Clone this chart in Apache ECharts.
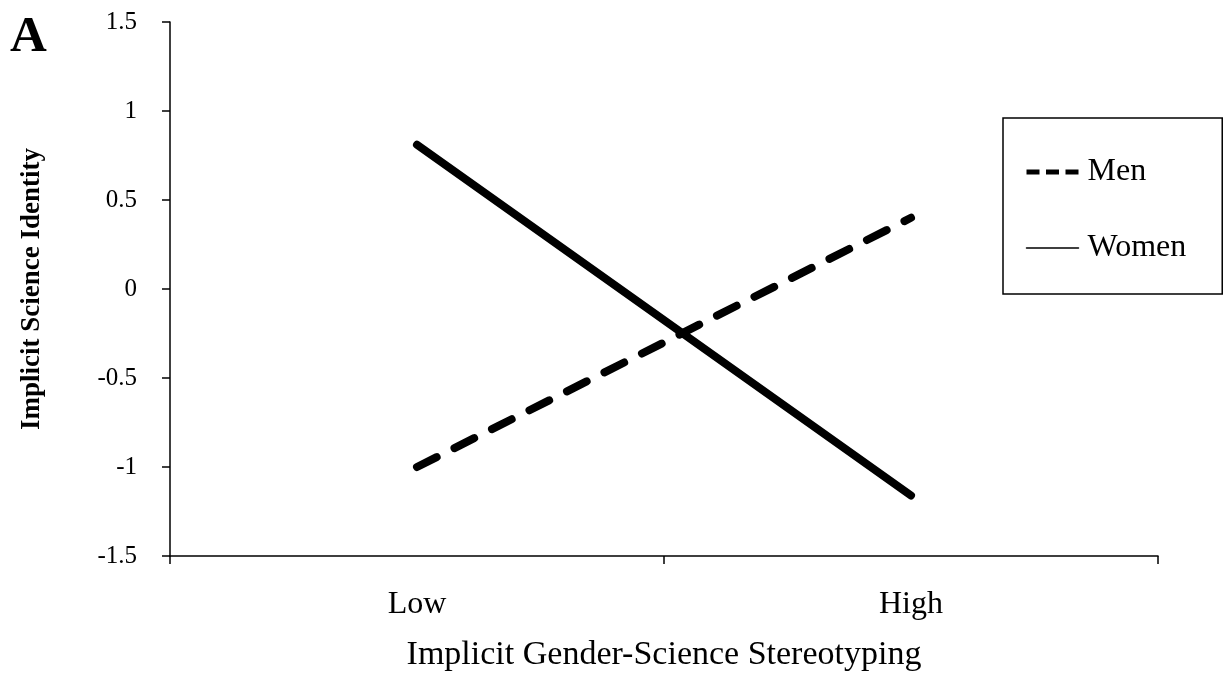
<!DOCTYPE html>
<html>
<head>
<meta charset="utf-8">
<script src="https://cdn.jsdelivr.net/npm/echarts@6/dist/echarts.min.js"></script>
<style>
  html, body { margin: 0; padding: 0; background: #fff; }
  #chart { width: 1231px; height: 681px; }
</style>
</head>
<body>
<div id="chart"></div>
<script>
// Stereotyping level on the x axis
const categories = ['Low', 'High'];
// Implicit science identity by gender
const menValues = [-1.0, 0.40];
const womenValues = [0.81, -1.16];
// Y axis range and step
const yMin = -1.5;
const yMax = 1.5;
const yStep = 0.5;

const FONT = '"Liberation Serif", "Times New Roman", serif';

const chart = echarts.init(document.getElementById('chart'), null, { renderer: 'canvas' });

chart.setOption({
  animation: false,
  backgroundColor: '#ffffff',
  grid: { left: 170, right: 73, top: 22, bottom: 125, containLabel: false },
  graphic: [{
    type: 'text',
    left: 10,
    top: 12,
    style: { text: 'A', font: 'bold 51px ' + FONT, fill: '#000' }
  }],
  legend: {
    orient: 'vertical',
    left: 1003,
    top: 118,
    padding: [38, 36, 30, 21],
    itemGap: 44,
    itemWidth: 52,
    itemHeight: 24,
    borderColor: '#000',
    borderWidth: 1.5,
    textStyle: { fontFamily: FONT, fontSize: 32, color: '#000', padding: [0, 0, 0, 4] },
    data: [
      { name: 'Men', itemStyle: { opacity: 0 }, lineStyle: { width: 5, type: [13, 6.5], cap: 'butt', color: '#000' } },
      { name: 'Women', itemStyle: { opacity: 0 }, lineStyle: { width: 1.5, type: 'solid', color: '#000' } }
    ]
  },
  xAxis: {
    type: 'category',
    data: categories,
    boundaryGap: true,
    name: 'Implicit Gender-Science Stereotyping',
    nameLocation: 'middle',
    nameGap: 82,
    nameTextStyle: { fontFamily: FONT, fontSize: 34, color: '#000' },
    axisLine: { show: true, onZero: false, lineStyle: { color: '#000', width: 1.5 } },
    axisTick: { show: true, length: 8, alignWithLabel: false, lineStyle: { color: '#000', width: 1.5 } },
    axisLabel: { fontFamily: FONT, fontSize: 32, color: '#000', margin: 33 },
    splitLine: { show: false }
  },
  yAxis: {
    type: 'value',
    min: yMin,
    max: yMax,
    interval: yStep,
    name: 'Implicit Science Identity',
    nameLocation: 'middle',
    nameGap: 124,
    nameRotate: 90,
    nameTextStyle: { fontFamily: FONT, fontSize: 27, fontWeight: 'bold', color: '#000' },
    axisLine: { show: true, lineStyle: { color: '#000', width: 1.5 } },
    axisTick: { show: true, length: 8, lineStyle: { color: '#000', width: 1.5 } },
    axisLabel: { fontFamily: FONT, fontSize: 25, color: '#000', margin: 33 },
    splitLine: { show: false }
  },
  series: [
    {
      name: 'Men',
      type: 'line',
      data: menValues,
      symbol: 'none',
      lineStyle: { color: '#000', width: 8, type: [22, 20], cap: 'round' },
      itemStyle: { color: '#000' }
    },
    {
      name: 'Women',
      type: 'line',
      data: womenValues,
      symbol: 'none',
      lineStyle: { color: '#000', width: 8, type: 'solid', cap: 'round' },
      itemStyle: { color: '#000' }
    }
  ]
});
</script>
</body>
</html>
